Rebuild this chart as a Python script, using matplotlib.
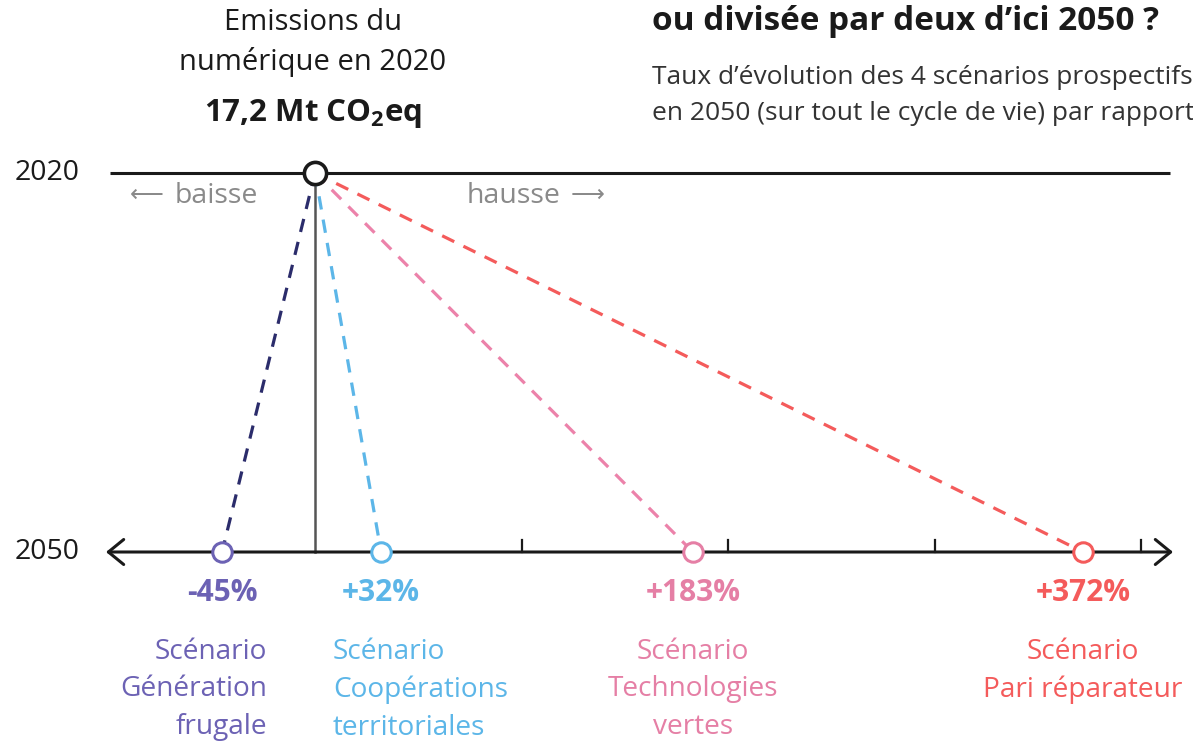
"""
Emissions du numérique : 4 scénarios prospectifs 2050 vs 2020.
"""
import matplotlib

matplotlib.use("Agg")
import matplotlib.pyplot as plt  # noqa: E402

plt.rcParams["font.family"] = ["Open Sans", "DejaVu Sans"]
plt.rcParams["mathtext.fontset"] = "custom"
plt.rcParams["mathtext.rm"] = "Open Sans"
plt.rcParams["mathtext.bf"] = "Open Sans:bold"

# ---------------------------------------------------------------------------
# Data
# ---------------------------------------------------------------------------
YEAR_START = 2020
YEAR_END = 2050
EMISSIONS_2020 = r"17,2 Mt CO$_\mathbf{2}$eq"

SCENARIOS = ["Génération\nfrugale", "Coopérations\nterritoriales",
             "Technologies\nvertes", "Pari réparateur"]
CHANGE_PCT = [-45, 32, 183, 372]
TICKS_PCT = [100, 200, 300, 400]

LINE_COLORS = ["#2b2c6b", "#5cb6e8", "#ec82aa", "#f45b5b"]
TEXT_COLORS = ["#6c62b4", "#5cb6e8", "#e57fa5", "#f45b5b"]
LABEL_ALIGN = ["right", "left", "center", "center"]

# ---------------------------------------------------------------------------
# Layout (pixel mapping of the original graphic)
# ---------------------------------------------------------------------------
W, H = 1193, 743
X0_PX, PX_PER_PCT = 315, 2.065
Y_TOP_PX, Y_BOT_PX = 173, 552
PX_PER_YEAR = (Y_BOT_PX - Y_TOP_PX) / (YEAR_END - YEAR_START)

fig = plt.figure(figsize=(W / 100, H / 100), dpi=100)
ax = fig.add_axes([0, 0, 1, 1])
ax.set_xlim(-X0_PX / PX_PER_PCT, (W - X0_PX) / PX_PER_PCT)
ax.set_ylim(YEAR_END + (H - Y_BOT_PX) / PX_PER_YEAR,
            YEAR_START - Y_TOP_PX / PX_PER_YEAR)
ax.axis("off")

def px(v):
    """pixel distance -> pct units"""
    return v / PX_PER_PCT

def py(v):
    """pixel distance -> year units"""
    return v / PX_PER_YEAR

# 2020 reference line
ax.plot([px(110 - X0_PX), px(1170 - X0_PX)], [YEAR_START, YEAR_START],
        color="#1a1a1a", lw=2.2, solid_capstyle="butt", zorder=2)
# 2050 axis with arrows both ends
ax.annotate("", xy=(px(1173 - X0_PX), YEAR_END), xytext=(px(106 - X0_PX), YEAR_END),
            arrowprops=dict(arrowstyle="<->,head_length=0.55,head_width=0.45",
                            color="#1a1a1a", lw=2.2, mutation_scale=20,
                            shrinkA=0, shrinkB=0), zorder=2)
for t in TICKS_PCT:
    ax.plot([t, t], [YEAR_END, YEAR_END - py(12)], color="#1a1a1a", lw=1.6, zorder=2)
# vertical reference (0 %)
ax.plot([0, 0], [YEAR_START, YEAR_END], color="#555555", lw=1.8, zorder=1)

# scenario dashed lines + circles
for pct, lc, tc in zip(CHANGE_PCT, LINE_COLORS, TEXT_COLORS):
    ax.plot([0, pct], [YEAR_START, YEAR_END], color=lc, lw=2.3,
            dashes=(4.2, 3.2), zorder=3)
    ax.plot(pct, YEAR_END, marker="o", markersize=14, markerfacecolor="white",
            markeredgecolor=tc, markeredgewidth=2.2, zorder=5)
ax.plot(0, YEAR_START, marker="o", markersize=16, markerfacecolor="white",
        markeredgecolor="#1a1a1a", markeredgewidth=2.6, zorder=6)

# percent labels and scenario names
for name, pct, tc, ha in zip(SCENARIOS, CHANGE_PCT, TEXT_COLORS, LABEL_ALIGN):
    ax.text(pct, YEAR_END + py(41), f"{pct:+d}%", color=tc, fontsize=21.5,
            fontweight="bold", ha="center", va="center")
    if ha == "right":
        x = pct + px(45)
    elif ha == "left":
        x = pct - px(48)
    else:
        x = pct
    ax.text(x, YEAR_END + py(86), "Scénario\n" + name, color=tc, fontsize=20.2,
            ha=ha, va="top", linespacing=1.45, multialignment=ha)

# year labels
ax.text(px(15 - X0_PX), YEAR_START, str(YEAR_START), fontsize=20.5, color="#1a1a1a",
        ha="left", va="center")
ax.text(px(15 - X0_PX), YEAR_END, str(YEAR_END), fontsize=20.5, color="#1a1a1a",
        ha="left", va="center")
ax.text(px(130 - X0_PX), YEAR_START + py(23), "\u27f5", fontsize=17,
        color="#8a8a8a", ha="left", va="center")
ax.text(px(258 - X0_PX), YEAR_START + py(23), "baisse", fontsize=20.5,
        color="#8a8a8a", ha="right", va="center")
ax.text(px(467 - X0_PX), YEAR_START + py(23), "hausse", fontsize=20.5,
        color="#8a8a8a", ha="left", va="center")
ax.text(px(605 - X0_PX), YEAR_START + py(23), "\u27f6", fontsize=17,
        color="#8a8a8a", ha="right", va="center")

# headers
fig.text(313 / W, 1 - 23 / H, "Emissions du", fontsize=21, color="#1a1a1a",
         ha="center", va="center")
fig.text(313 / W, 1 - 62 / H, "numérique en 2020", fontsize=21, color="#1a1a1a",
         ha="center", va="center")
fig.text(313 / W, 1 - 114 / H, EMISSIONS_2020, fontsize=22.5, fontweight="bold",
         color="#1a1a1a", ha="center", va="center")

fig.text(652 / W, 1 - 22 / H, "ou divisée par deux d\u2019ici 2050 ?", fontsize=24,
         fontweight="bold", color="#1a1a1a", ha="left", va="center")
fig.text(652 / W, 1 - 78 / H, "Taux d\u2019évolution des 4 scénarios prospectifs",
         fontsize=19, color="#333333", ha="left", va="center")
fig.text(652 / W, 1 - 113 / H, "en 2050 (sur tout le cycle de vie) par rapport",
         fontsize=19, color="#333333", ha="left", va="center")

fig.savefig("out.png", dpi=100, facecolor="white")
